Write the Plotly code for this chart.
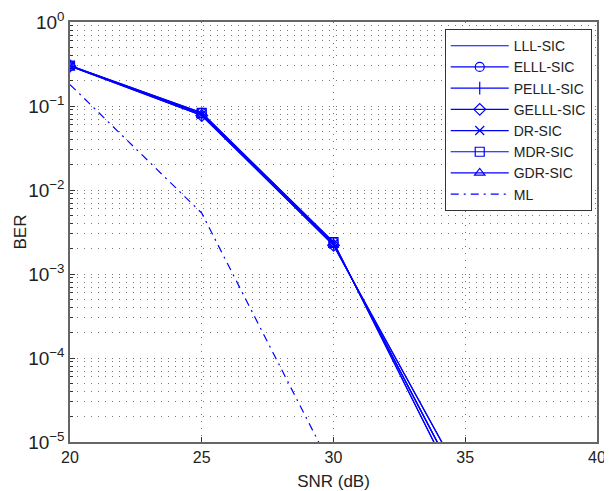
import plotly.graph_objects as go

snr = [20, 25, 30, 35]
snr_ml = [20, 25, 30]

lll_sic = [0.300, 0.080, 0.0023, 2.3e-6]
elll_sic = [0.302, 0.083, 0.0024, 1.8e-6]
pelll_sic = [0.300, 0.080, 0.0023, 2.3e-6]
gelll_sic = [0.298, 0.077, 0.0022, 3.1e-6]
dr_sic = [0.300, 0.080, 0.0023, 2.3e-6]
mdr_sic = [0.302, 0.083, 0.0024, 1.8e-6]
gdr_sic = [0.298, 0.077, 0.0022, 3.1e-6]
ml = [0.18, 0.0053, 4.5e-6]

series = [
    ("LLL-SIC", lll_sic, None),
    ("ELLL-SIC", elll_sic, "circle-open"),
    ("PELLL-SIC", pelll_sic, "line-ns-open"),
    ("GELLL-SIC", gelll_sic, "diamond-open"),
    ("DR-SIC", dr_sic, "x-thin-open"),
    ("MDR-SIC", mdr_sic, "square-open"),
    ("GDR-SIC", gdr_sic, "triangle-up-open"),
]

blue = "#0000FF"
fig = go.Figure()
for name, vals, sym in series:
    if sym is None:
        fig.add_trace(go.Scatter(x=snr, y=vals, name=name, mode="lines",
                                 line=dict(color=blue, width=1.2)))
    else:
        fig.add_trace(go.Scatter(x=snr, y=vals, name=name, mode="lines+markers",
                                 line=dict(color=blue, width=1.2),
                                 marker=dict(symbol=sym, size=9, color=blue,
                                             line=dict(color=blue, width=1.2))))
fig.add_trace(go.Scatter(x=snr_ml, y=ml, name="ML", mode="lines",
                         line=dict(color=blue, width=1.2, dash="8px,5px,2px,5px")))

ytick_vals = [1, 1e-1, 1e-2, 1e-3, 1e-4, 1e-5]
ytick_text = ["10<sup>0</sup>", "10<sup>−1</sup>", "10<sup>−2</sup>",
              "10<sup>−3</sup>", "10<sup>−4</sup>", "10<sup>−5</sup>"]
minor_vals = [m * 10 ** e for e in range(-5, 0) for m in range(2, 10)]

grid_dash = "1px,6px"
fig.update_layout(
    template="none",
    width=606, height=483,
    margin=dict(l=62, r=17, t=14, b=49),
    paper_bgcolor="white", plot_bgcolor="white",
    font=dict(family="Liberation Sans, Arial, sans-serif", size=16, color="#222"),
    showlegend=True,
    legend=dict(x=0.99, y=0.983, xanchor="right", yanchor="top",
                bgcolor="white", bordercolor="#333", borderwidth=1,
                font=dict(size=14), tracegroupgap=0, itemwidth=58),
    xaxis=dict(range=[20, 40], tickvals=[20, 25, 30, 35, 40], automargin=False,
               ticklabeloverflow="allow",
               showline=True, linecolor="#666", linewidth=1.5, mirror=True,
               ticks="inside", ticklen=5, tickcolor="#333",
               tickfont=dict(size=16),
               showgrid=True, gridcolor="#777", griddash=grid_dash, gridwidth=1,
               zeroline=False,
               title=dict(text="SNR (dB)", font=dict(size=17))),
    yaxis=dict(type="log", range=[-5, 0], tickvals=ytick_vals, ticktext=ytick_text,
               automargin=False,
               showline=True, linecolor="#666", linewidth=1.5, mirror=True,
               ticks="inside", ticklen=5, tickcolor="#333",
               tickfont=dict(size=19),
               showgrid=True, gridcolor="#777", griddash=grid_dash, gridwidth=1,
               zeroline=False,
               minor=dict(tickvals=minor_vals, showgrid=True, gridcolor="#777",
                          griddash=grid_dash, gridwidth=1, ticks="inside", ticklen=3,
                          tickcolor="#333"),
               title=dict(text="BER", font=dict(size=17))),
)

fig.write_html("out.html")
